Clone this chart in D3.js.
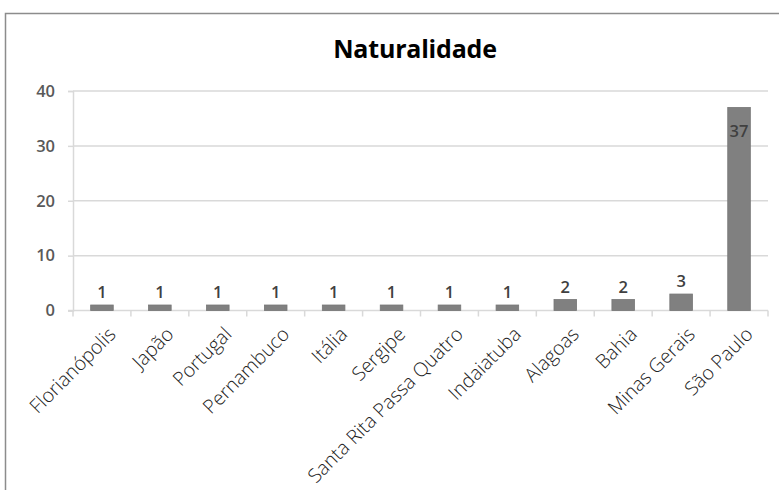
<!DOCTYPE html>
<html><head><meta charset="utf-8">
<script src="https://cdn.jsdelivr.net/npm/d3@7"></script>
<style>body{margin:0;background:#fff;overflow:hidden}</style>
</head><body><svg id="c" width="779" height="490"></svg>
<script>
const categories = ["Florianópolis","Japão","Portugal","Pernambuco","Itália","Sergipe","Santa Rita Passa Quatro","Indaiatuba","Alagoas","Bahia","Minas Gerais","São Paulo"];
const values = [1,1,1,1,1,1,1,1,2,2,3,37];
const yTicks = [0,10,20,30,40];
const title = "Naturalidade";

const svg = d3.select("#c");
const font = "'Open Sans', 'Noto Sans', sans-serif";
svg.append("rect").attr("x",5.5).attr("y",13.5).attr("width",830).attr("height",500)
  .attr("fill","#fff").attr("stroke","#8c8c8c").attr("stroke-width",1.5);

svg.append("text").attr("x",415).attr("y",58).attr("text-anchor","middle")
  .attr("font-family",font).attr("font-weight","bold").attr("font-size",25)
  .attr("letter-spacing",-0.2).attr("fill","#000").text(title);

const x = d3.scaleBand().domain(categories).range([73,768]).paddingInner(0.61).paddingOuter(0.305);
const y = d3.scaleLinear().domain([0,40]).range([310.5,91]);

const yAxis = d3.axisLeft(y).tickValues(yTicks).tickSize(5).tickPadding(13).tickFormat(d3.format("d"));
const gy = svg.append("g").attr("transform","translate(73,0)").call(yAxis);
gy.select(".domain").attr("stroke","#d9d9d9").attr("stroke-width",1.5);
gy.selectAll(".tick line").attr("stroke","#d9d9d9").attr("stroke-width",1.5);
gy.selectAll(".tick text").attr("font-family",font).attr("font-size",16.5).attr("font-weight",600).attr("fill","#595959");
svg.append("g").selectAll("line").data(yTicks.filter(d=>d>0)).join("line")
  .attr("x1",73).attr("x2",768).attr("y1",d=>y(d)).attr("y2",d=>y(d))
  .attr("stroke","#d9d9d9").attr("stroke-width",1.5);

const xb = d3.scaleLinear().domain([0,categories.length]).range([73,768]);
const gx = svg.append("g");
gx.append("line").attr("x1",68).attr("x2",768).attr("y1",y(0)).attr("y2",y(0)).attr("stroke","#d9d9d9").attr("stroke-width",1.5);
gx.selectAll("line.t").data(d3.range(categories.length+1)).join("line").attr("class","t")
  .attr("x1",d=>xb(d)).attr("x2",d=>xb(d)).attr("y1",y(0)).attr("y2",y(0)+6)
  .attr("stroke","#d9d9d9").attr("stroke-width",1.5);

svg.append("g").selectAll("rect").data(values).join("rect")
  .attr("x",(d,i)=>x(categories[i])).attr("width",x.bandwidth())
  .attr("y",d=>y(d)).attr("height",d=>y(0)-y(d))
  .attr("fill","#808080").attr("stroke","#767676").attr("stroke-width",0.8);

svg.append("g").selectAll("text").data(values).join("text")
  .attr("x",(d,i)=>x(categories[i])+x.bandwidth()/2)
  .attr("y",d=>Math.max(y(d)-7, y(40)+46))
  .attr("text-anchor","middle").attr("font-family",font).attr("font-size",16.5).attr("font-weight",600)
  .attr("fill","#404040").text(d=>d);

svg.append("g").selectAll("text").data(categories).join("text")
  .attr("transform",(d)=>`translate(${x(d)+x.bandwidth()/2+15},${y(0)+25}) rotate(-45)`)
  .attr("text-anchor","end").attr("font-family",font).attr("font-size",19.5).attr("font-weight",300)
  .attr("fill","#222").text(d=>d);
</script></body></html>
